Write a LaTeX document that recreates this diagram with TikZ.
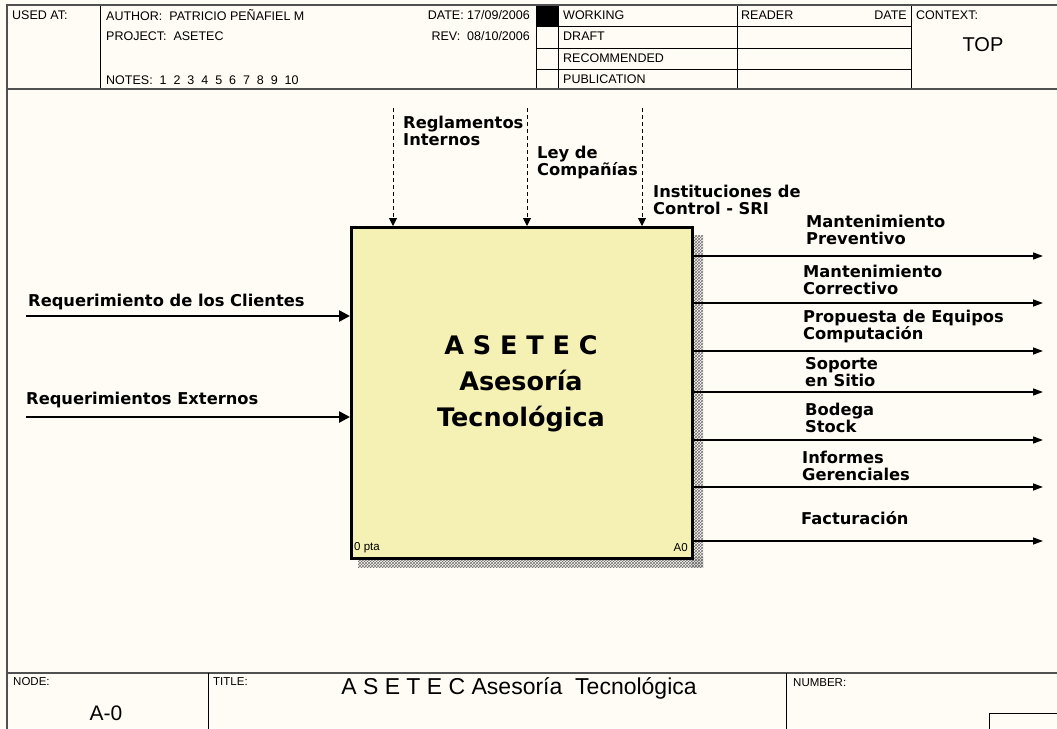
\documentclass[tikz,border=0pt]{standalone}
\usepackage{fontspec}
\setmainfont{Liberation Sans}
\newfontfamily\dvb{DejaVu Sans}
\usetikzlibrary{arrows.meta,patterns}
\definecolor{bg}{RGB}{255,251,245}
\definecolor{framec}{RGB}{80,80,80}
\definecolor{boxfill}{RGB}{245,241,181}
\tikzset{
  hdr/.style={font=\fontsize{12.5}{14}\selectfont, inner sep=0pt, anchor=west},
  small/.style={font=\fontsize{11.5}{13}\selectfont, inner sep=0pt, anchor=west},
  lbl/.style={font=\dvb\bfseries\fontsize{16.3}{17}\selectfont, align=left, anchor=west, inner sep=0pt},
  ctrl/.style={line width=1pt, dash pattern=on 4pt off 3pt, -{Triangle[length=8pt,width=8pt]}},
  inp/.style={line width=2.5pt, -{Triangle[length=11pt,width=11pt]}},
  outp/.style={line width=1.4pt, -{Triangle[length=10pt,width=7pt]}},
  framel/.style={draw=framec, line width=2.2pt},
  thin/.style={draw=black, line width=1pt},
  hatch/.style={pattern=crosshatch, pattern color=black!55},
}
\begin{document}
\begin{tikzpicture}[x=1pt,y=-1pt]
\fill[bg] (0,0) rectangle (1057,728);
\useasboundingbox (0,0) rectangle (1057,728);

% ---------- header ----------
\fill[black] (536,5) rectangle (558,26.5);
\draw[thin] (100,5) -- (100,89);
\draw[thin] (536,5) -- (536,89);
\draw[thin] (558,5) -- (558,89);
\draw[thin] (737,5) -- (737,89);
\draw[thin] (911,5) -- (911,89);
\draw[thin] (536,26.5) -- (911,26.5);
\draw[thin] (536,48) -- (911,48);
\draw[thin] (536,69.5) -- (911,69.5);

\node[hdr] (usedat) at (12,15.5) {USED AT:};
\node[hdr] (author) at (106,15.5) {AUTHOR:\ \ PATRICIO PEÑAFIEL M};
\node[hdr] (project) at (106,36) {PROJECT:\ \ ASETEC};
\node[hdr] (notes) at (106,80) {NOTES:\ \ 1\ \ 2\ \ 3\ \ 4\ \ 5\ \ 6\ \ 7\ \ 8\ \ 9\ \ 10};
\node[hdr, anchor=east] (date) at (530,15.5) {DATE: 17/09/2006};
\node[hdr, anchor=east] (rev) at (530,36) {REV:\ \ 08/10/2006};
\node[hdr] (working) at (563,15.5) {WORKING};
\node[hdr] (draft) at (563,36.5) {DRAFT};
\node[hdr] (recom) at (563,58) {RECOMMENDED};
\node[hdr] (publ) at (563,79.5) {PUBLICATION};
\node[hdr] (reader) at (741,15.5) {READER};
\node[hdr, anchor=east] (rdate) at (907,15.5) {DATE};
\node[hdr] (context) at (916,15.5) {CONTEXT:};
\node[font=\fontsize{20}{22}\selectfont, inner sep=0pt] (top) at (983,45) {TOP};

% ---------- frame ----------
\draw[framel] (7,740) -- (7,5) -- (1065,5);
\draw[framel] (7,89) -- (1065,89);
\draw[framel] (7,673) -- (1065,673);

% ---------- footer ----------
\draw[thin] (208,673) -- (208,740);
\draw[thin] (786,673) -- (786,740);
\draw[thin] (989,740) -- (989,713) -- (1065,713);
\node[small] (nodel) at (13,682) {NODE:};
\node[font=\fontsize{21}{23}\selectfont, inner sep=0pt] (nodeval) at (106,713) {A-0};
\node[small] (titlel) at (213,682) {TITLE:};
\node[font=\fontsize{23}{25}\selectfont, inner sep=0pt] (titleval) at (519,688) {A S E T E C Asesoría\ \ Tecnológica};
\node[small] (numberl) at (793,683) {NUMBER:};

% ---------- activity box ----------
\fill[hatch] (691,235) rectangle (703,567);
\fill[hatch] (358,557) rectangle (703,567);
\node[draw, line width=3pt, fill=boxfill, minimum width=341pt, minimum height=331pt,
      inner sep=0pt, anchor=north west] (box) at (350,226) {};
\node[font=\dvb\bfseries\fontsize{25.5}{36}\selectfont, align=center, inner sep=0pt] (boxtext) at (521,384)
  {A S E T E C\\Asesoría\\Tecnológica};
\node[small] (pta) at (354,548) {0 pta};
\node[small, anchor=east] (a0) at (688,548) {A0};

% ---------- controls ----------
\coordinate (c1) at (393,108);
\coordinate (c2) at (527,108);
\coordinate (c3) at (642,108);
\draw[ctrl] (c1) -- (c1 |- box.north);
\draw[ctrl] (c2) -- (c2 |- box.north);
\draw[ctrl] (c3) -- (c3 |- box.north);
\node[lbl] (lc1) at (403,131) {Reglamentos\\Internos};
\node[lbl] (lc2) at (537,162.5) {Ley de\\Compañías};
\node[lbl] (lc3) at (653,200) {Instituciones de\\Control - SRI};

% ---------- inputs ----------
\coordinate (i1) at (26,316);
\coordinate (i2) at (26,417);
\draw[inp] (i1) -- (i1 -| box.west);
\draw[inp] (i2) -- (i2 -| box.west);
\node[lbl] (li1) at (28,302) {Requerimiento de los Clientes};
\node[lbl] (li2) at (26,400) {Requerimientos Externos};

% ---------- outputs ----------
\coordinate (o1) at (1043,256);
\coordinate (o2) at (1043,303);
\coordinate (o3) at (1043,351);
\coordinate (o4) at (1043,392);
\coordinate (o5) at (1043,440);
\coordinate (o6) at (1043,487);
\coordinate (o7) at (1043,541);
\foreach \o in {o1,o2,o3,o4,o5,o6,o7}{\draw[outp] (\o -| box.east) -- (\o);}
\node[lbl] (lo1) at (806,230) {Mantenimiento\\Preventivo};
\node[lbl] (lo2) at (803,280) {Mantenimiento\\Correctivo};
\node[lbl] (lo3) at (803,326) {Propuesta de Equipos\\Computación};
\node[lbl] (lo4) at (805,372) {Soporte\\en Sitio};
\node[lbl] (lo5) at (805,418) {Bodega\\Stock};
\node[lbl] (lo6) at (802,465.5) {Informes\\Gerenciales};
\node[lbl] (lo7) at (801,518) {Facturación};
\end{tikzpicture}
\end{document}
